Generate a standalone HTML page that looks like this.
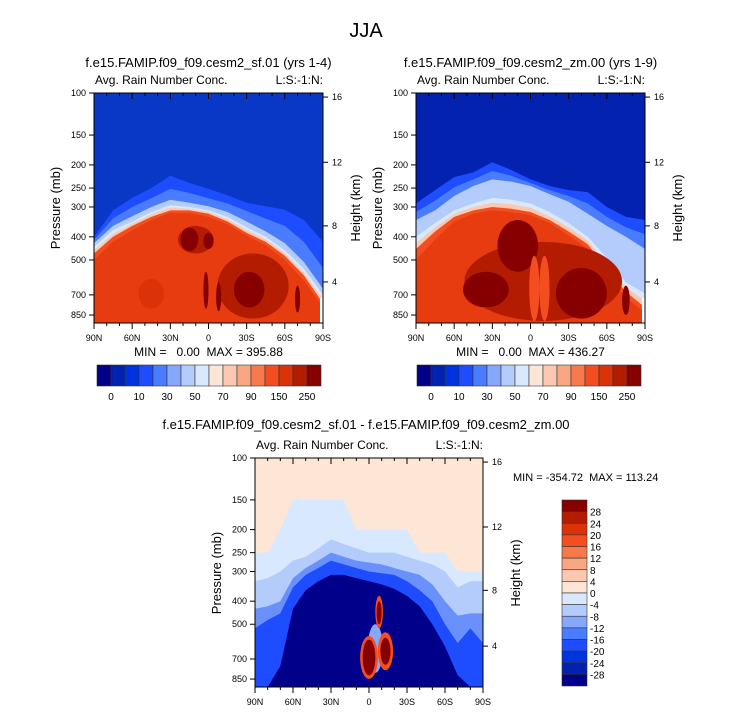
<!DOCTYPE html>
<html><head><meta charset="utf-8">
<style>
html,body{margin:0;padding:0;background:#fff;}
svg{display:block;font-family:"Liberation Sans",Arial,sans-serif;}
svg text{white-space:pre;}
</style></head>
<body>
<svg id="fig" width="733" height="712" viewBox="0 0 733 712" xmlns="http://www.w3.org/2000/svg">
<text x="366" y="37" font-size="20" text-anchor="middle">JJA</text>
</svg>
<script>
// ---------- shared data ----------
const latTicks = [90,60,30,0,-30,-60,-90];
const latTickLabels = ["90N","60N","30N","0","30S","60S","90S"];
const pressureTicks = [100,150,200,250,300,400,500,700,850];
const heightTickLabels = ["16","12","8","4"];
const heightTickPressures = [104,195,360,618];

const levelColors = ["#00008a","#0022b0","#0033e0","#1e4cff","#4a7cff","#86a8fc","#b4ccfc","#d8e8fe","#fee6d6","#fcc8b0","#faa682","#f87a4c","#f44e20","#dc3208","#b41c02","#860000"];
const topBarLabels = ["0","10","30","50","70","90","150","250"];
const diffBarLabels = ["28","24","20","16","12","8","4","0","-4","-8","-12","-16","-20","-24","-28"];

// ---------- left plot (sf.01) ----------
const leftLats = [90,75,60,45,30,15,0,-15,-30,-45,-60,-75,-90];
const leftEdgeTop   = [400,310,275,250,222,238,252,268,288,298,308,340,420];
const leftMidTop    = [412,335,300,276,252,262,276,290,312,336,360,420,540];
const leftLightTop  = [425,360,328,300,280,288,298,315,345,380,425,510,660];
const leftWhiteTop  = [440,375,345,315,295,300,310,330,365,400,455,545,700];
const leftPeachTop  = [455,388,352,322,302,305,315,338,375,410,468,565,730];
const leftOrangeTop = [470,400,360,330,310,310,320,345,385,420,480,580,760];
const leftRedTop    = [500,420,375,340,318,318,330,355,395,435,500,610,790];
const leftBlobLat = [-35,10,45,15,0,-32,-8,2,-70];
const leftBlobHw  = [28,14,10,7,4,12,2,2,2];
const leftBlobPt  = [470,360,600,365,385,560,620,560,640];
const leftBlobPb  = [880,470,800,460,450,790,820,800,830];
const leftBlobCol = [14,14,13,15,15,15,15,15,15];

// ---------- right plot (zm.00) ----------
const rightLats = [90,75,60,45,30,15,0,-15,-30,-45,-60,-75,-90];
const rightEdgeTop   = [290,255,225,215,195,210,230,245,255,260,300,330,340];
const rightMidTop    = [315,282,248,230,212,222,238,255,270,290,330,365,390];
const rightLightTop  = [340,310,270,245,230,235,245,265,285,320,360,400,450];
const rightWhiteTop  = [400,350,310,290,275,280,290,315,350,400,490,620,690];
const rightPeachTop  = [425,365,320,300,288,292,302,328,365,415,520,650,740];
const rightOrangeTop = [450,380,330,310,300,305,315,340,380,430,550,680,790];
const rightRedTop    = [500,410,345,320,310,315,325,350,395,450,580,720,830];
const rightBlobLat = [-10,10,35,-40,-3,-11,-75];
const rightBlobHw  = [62,16,18,20,4,4,3];
const rightBlobPt  = [420,340,560,540,480,480,640];
const rightBlobPb  = [900,560,790,880,900,900,850];
const rightBlobCol = [14,15,15,15,12,12,15];

// ---------- difference plot ----------
const diffLats = [90,80,70,60,50,40,30,20,10,0,-10,-20,-30,-40,-50,-60,-70,-80,-90];
const diffLightTop = [250,250,200,150,150,150,150,150,200,200,200,200,200,250,250,250,300,300,300];
const diffB1Top    = [330,320,300,270,260,240,220,230,240,250,250,250,260,270,280,300,350,330,330];
const diffB2Top    = [430,420,400,320,290,270,250,260,270,275,280,290,300,310,340,400,460,450,450];
const diffB3Top    = [520,480,450,350,310,290,270,280,290,300,305,310,330,360,400,500,600,520,600];
const diffNavyTop  = [950,950,750,430,360,330,310,310,320,330,340,355,380,420,500,620,820,950,950];
const diffBlobLat = [-5,0,-13,-8,0,-13,-8];
const diffBlobHw  = [6,7,6,3,5,4,2];
const diffBlobPt  = [500,560,540,380,580,570,400];
const diffBlobPb  = [800,850,780,520,820,740,500];
const diffBlobCol = [5,12,12,12,15,15,15];

// ---------- helpers ----------
const NS = "http://www.w3.org/2000/svg";
const svg = document.getElementById("fig");
const LOGSPAN = Math.log10(918) - 2;
function yOf(b, p){ p = Math.max(100, Math.min(918, p)); return b.y + (Math.log10(p) - 2) / LOGSPAN * b.h; }
function xOf(b, lat){ return b.x + (90 - lat) / 180 * b.w; }
function mk(tag, attrs, parent){
  const e = document.createElementNS(NS, tag);
  for (const k in attrs) e.setAttribute(k, attrs[k]);
  (parent || svg).appendChild(e);
  return e;
}
let clipId = 0;
function plotGroup(b, name){
  clipId++;
  const cp = mk("clipPath", {id: "c" + clipId});
  mk("rect", {x: b.x, y: b.y, width: b.w, height: b.h}, cp);
  const g = mk("g", {"clip-path": "url(#c" + clipId + ")"});
  
  
  return g;
}
function layer(g, b, lats, tops, color, name){
  let pts = lats.map((la, i) => xOf(b, la).toFixed(1) + "," + yOf(b, tops[i]).toFixed(1));
  pts.push(xOf(b, lats[lats.length-1]) + "," + (b.y + b.h + 2));
  pts.push(xOf(b, lats[0]) + "," + (b.y + b.h + 2));
  const e = mk("polygon", {points: pts.join(" "), fill: color}, g);
  
  
}
function blobs(g, b, lat, hw, pt, pb, col, name){
  for (let i = 0; i < lat.length; i++){
    const y1 = yOf(b, pt[i]), y2 = yOf(b, pb[i]);
    const e = mk("ellipse", {cx: xOf(b, lat[i]), cy: (y1 + y2) / 2, rx: hw[i] / 180 * b.w, ry: (y2 - y1) / 2, fill: levelColors[col[i]]}, g);
    
    
  }
}
function txt(x, y, s, size, anchor, name, rot){
  const e = mk("text", {x: x, y: y, "font-size": size, "text-anchor": anchor || "start"});
  if (rot) e.setAttribute("transform", "rotate(-90 " + x + " " + y + ")");
  e.textContent = s;
  
  
  return e;
}
function axes(b, prefix){
  const g = mk("g", {stroke: "#000", "stroke-width": 1, fill: "none"});
  
  
  mk("rect", {x: b.x, y: b.y, width: b.w, height: b.h}, g);
  for (let lat = 90; lat >= -90; lat -= 10){
    const x = xOf(b, lat), major = lat % 30 === 0;
    mk("line", {x1: x, x2: x, y1: b.y, y2: b.y + (major ? 6 : 3)}, g);
    mk("line", {x1: x, x2: x, y1: b.y + b.h, y2: b.y + b.h + (major ? 6 : 3)}, g);
  }
  pressureTicks.forEach(p => { const y = yOf(b, p); mk("line", {x1: b.x - 5, x2: b.x, y1: y, y2: y}, g); });
  heightTickPressures.forEach(p => { const y = yOf(b, p); mk("line", {x1: b.x + b.w, x2: b.x + b.w + 5, y1: y, y2: y}, g); });
  latTicks.forEach((lat, i) => txt(xOf(b, lat), b.y + b.h + 18, latTickLabels[i], 9, "middle", prefix + "-x-tick-label"));
  pressureTicks.forEach(p => txt(b.x - 8, yOf(b, p) + 3, String(p), 9, "end", prefix + "-y-tick-label"));
  heightTickPressures.forEach((p, i) => txt(b.x + b.w + 9, yOf(b, p) + 3, heightTickLabels[i], 9, "start", prefix + "-height-tick-label"));
  txt(b.x - 34, b.y + 115, "Pressure (mb)", 13, "middle", prefix + "-y-axis-title", true);
  txt(b.x + b.w + 37, b.y + 115, "Height (km)", 13, "middle", prefix + "-height-axis-title", true);
  txt(b.x + 1, b.y - 9, "Avg. Rain Number Conc.", 12, "start", prefix + "-subtitle-left");
  txt(b.x + b.w, b.y - 9, "L:S:-1:N:", 12, "end", prefix + "-subtitle-right");
}
function hbar(x, y, w, h, prefix){
  const n = levelColors.length, bw = w / n;
  for (let i = 0; i < n; i++){
    const r = mk("rect", {x: x + i * bw, y: y, width: bw, height: h, fill: levelColors[i], stroke: "#333", "stroke-width": 0.6});
    
    
  }
  topBarLabels.forEach((s, k) => txt(x + (1 + 2 * k) * bw, y + h + 14, s, 10, "middle", prefix + "-colorbar-label"));
}
function vbar(x, y, w, h, prefix){
  const n = levelColors.length, bh = h / n;
  for (let i = 0; i < n; i++){
    const r = mk("rect", {x: x, y: y + i * bh, width: w, height: bh, fill: levelColors[n - 1 - i], stroke: "#333", "stroke-width": 0.6});
    
    
  }
  diffBarLabels.forEach((s, k) => txt(x + w + 3, y + (k + 1) * bh + 4, s, 10, "start", prefix + "-colorbar-label"));
}
function topPanel(b, lats, arrs, bl, bg, prefix, title, minmax, barX){
  const g = plotGroup(b, prefix + "-contour-field");
  const bgr = mk("rect", {x: b.x, y: b.y, width: b.w, height: b.h, fill: bg}, g);
  
  
  const cols = ["#1e4cff","#4a7cff","#b4ccfc","#d8e8fe","#fcc8b0","#f44e20","#e63c10"];
  const names = ["edge","mid","light","white","peach","orange","red"];
  arrs.forEach((a, i) => layer(g, b, lats, a, cols[i], prefix + "-band-" + names[i]));
  blobs(g, b, bl[0], bl[1], bl[2], bl[3], bl[4], prefix + "-blob");
  const wr = mk("rect", {x: b.x + b.w - 3, y: yOf(b, 720), width: 4, height: 60, fill: "#fff"}, g);
  
  
  axes(b, prefix);
  txt(b.x + b.w / 2, 67, title, 13, "middle", prefix + "-title");
  txt(b.x + b.w / 2, 356, minmax, 12, "middle", prefix + "-min-max");
  hbar(barX, 365, 224, 21, prefix);
}

// ---------- build ----------
const LB = {x: 94, y: 93, w: 229, h: 230};
topPanel(LB, leftLats, [leftEdgeTop, leftMidTop, leftLightTop, leftWhiteTop, leftPeachTop, leftOrangeTop, leftRedTop],
  [leftBlobLat, leftBlobHw, leftBlobPt, leftBlobPb, leftBlobCol], "#0a38c6", "left-panel",
  "f.e15.FAMIP.f09_f09.cesm2_sf.01 (yrs 1-4)", "MIN =   0.00  MAX = 395.88", 97);

const RB = {x: 416, y: 93, w: 229, h: 230};
topPanel(RB, rightLats, [rightEdgeTop, rightMidTop, rightLightTop, rightWhiteTop, rightPeachTop, rightOrangeTop, rightRedTop],
  [rightBlobLat, rightBlobHw, rightBlobPt, rightBlobPb, rightBlobCol], "#0422b0", "right-panel",
  "f.e15.FAMIP.f09_f09.cesm2_zm.00 (yrs 1-9)", "MIN =   0.00  MAX = 436.27", 417);

const DB = {x: 255, y: 458, w: 228, h: 229};
const dg = plotGroup(DB, "diff-contour-field");
const dbg = mk("rect", {x: DB.x, y: DB.y, width: DB.w, height: DB.h, fill: "#fee6d6"}, dg);


layer(dg, DB, diffLats, diffLightTop, "#d8e8fe", "diff-band-light");
layer(dg, DB, diffLats, diffB1Top, "#b4ccfc", "diff-band-b1");
layer(dg, DB, diffLats, diffB2Top, "#6a90fc", "diff-band-b2");
layer(dg, DB, diffLats, diffB3Top, "#1e4cff", "diff-band-b3");
layer(dg, DB, diffLats, diffNavyTop, "#00008a", "diff-band-navy");
blobs(dg, DB, diffBlobLat, diffBlobHw, diffBlobPt, diffBlobPb, diffBlobCol, "diff-blob");
axes(DB, "diff-panel");
txt(366, 429, "f.e15.FAMIP.f09_f09.cesm2_sf.01 - f.e15.FAMIP.f09_f09.cesm2_zm.00", 13, "middle", "diff-title");
txt(513, 481, "MIN = -354.72  MAX = 113.24", 11, "start", "diff-min-max");
vbar(562, 500, 25, 186, "diff-panel");
</script>
</body></html>
